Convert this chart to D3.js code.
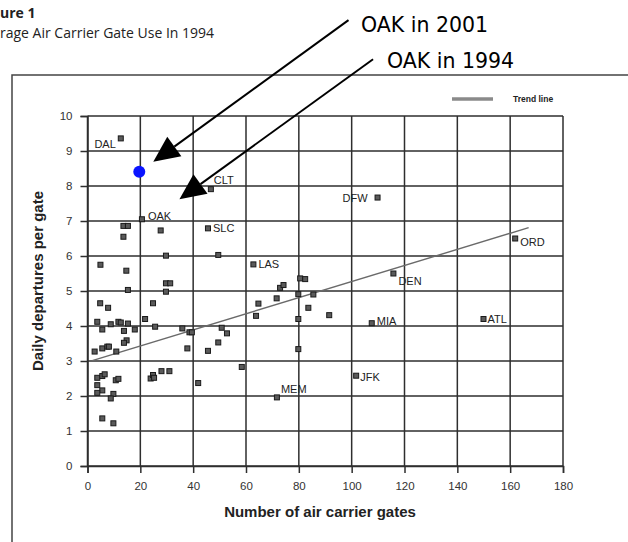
<!DOCTYPE html>
<html><head><meta charset="utf-8">
<script src="https://cdn.jsdelivr.net/npm/d3@7"></script>
<style>body{margin:0;background:#fff}svg{display:block}</style>
</head><body>
<svg id="c" width="628" height="542"></svg>
<script>
// ---- data ----
const xTicks = [0,20,40,60,80,100,120,140,160,180];
const yTicks = [0,1,2,3,4,5,6,7,8,9,10];
const labeledNames = ["DAL","CLT","OAK","SLC","LAS","DFW","ORD","DEN","MIA","ATL","JFK","MEM"];
const labeledGates = [12.6,46.7,20.6,45.6,62.8,109.8,161.9,115.8,107.6,149.9,101.7,71.7];
const labeledDeps  = [9.36,7.91,7.05,6.79,5.76,7.67,6.5,5.5,4.08,4.2,2.58,1.96];
const otherGates = [13.6,15.3,13.6,27.7,29.7,49.5,4.9,14.7,29.7,31.3,15.3,29.7,4.8,7.8,24.8,64.7,71.6,72.9,74.2,80.5,82.4,79.8,85.5,83.6,91.5,79.8,79.8,63.8,21.8,3.7,5.6,8.8,11.7,12.6,15.3,13.8,17.9,25.6,35.9,38.6,39.5,37.8,45.6,49.5,50.8,52.8,58.4,14.8,13.8,5.6,7.5,8.1,2.7,10.9,3.7,5.6,6.5,3.7,5.6,3.7,10.7,11.7,9.8,8.8,5.6,9.8,23.9,24.8,25.2,28,31,41.9];
const otherDeps  = [6.86,6.86,6.55,6.73,6.01,6.03,5.75,5.58,5.22,5.22,5.03,4.98,4.65,4.52,4.65,4.64,4.79,5.09,5.17,5.36,5.34,4.91,4.9,4.52,4.31,4.2,3.34,4.29,4.2,4.12,3.9,4.05,4.12,4.1,4.07,3.86,3.9,3.98,3.93,3.82,3.82,3.36,3.29,3.53,3.95,3.79,2.83,3.59,3.52,3.36,3.41,3.41,3.27,3.27,2.52,2.57,2.62,2.31,2.16,2.09,2.45,2.49,2.06,1.93,1.36,1.22,2.5,2.6,2.52,2.71,2.71,2.37];
const oak2001 = [19.6, 8.41];
const trendX = [1.8, 167];
const trendY = [3.01, 6.81];
const annoText = ["OAK in 2001","OAK in 1994"];
const annoFrom = [[98.8,12.74],[108.1,11.62]];
const annoTip  = [[24.9,8.69],[34.8,7.62]];

// ---- layout ----
const svg = d3.select("#c");
const x = d3.scaleLinear().domain([0,180]).range([87.5,563]);
const y = d3.scaleLinear().domain([0,10]).range([466,116]);
const lineCol = "#2e2e2e";
const helv = "'Liberation Sans', Arial, sans-serif";
const human = "'Open Sans', 'Noto Sans', sans-serif";

// page frame
svg.append("path").attr("d","M12,542V75H628").attr("fill","none").attr("stroke","#444").attr("stroke-width",1.5);

// titles
svg.append("text").attr("x",0).attr("y",18).attr("font-family",human).attr("font-weight","bold").attr("font-size",14).attr("fill","#222").text("ure 1");
svg.append("text").attr("x",0).attr("y",37.5).attr("font-family",human).attr("font-size",14).attr("fill","#222").text("rage Air Carrier Gate Use In 1994");

// grid
const g = svg.append("g");
g.selectAll("line.h").data(yTicks).join("line")
  .attr("x1",x(0)).attr("x2",x(180)).attr("y1",d=>y(d)).attr("y2",d=>y(d))
  .attr("stroke",lineCol).attr("stroke-width",1.5);
g.selectAll("line.v").data(xTicks).join("line")
  .attr("y1",y(0)).attr("y2",y(10)).attr("x1",d=>x(d)).attr("x2",d=>x(d))
  .attr("stroke",lineCol).attr("stroke-width",1.5);

// axes
const xa = svg.append("g").attr("transform",`translate(0,${y(0)})`)
  .call(d3.axisBottom(x).tickValues(xTicks).tickSize(7).tickPadding(9).tickFormat(d3.format("d")));
const ya = svg.append("g").attr("transform",`translate(${x(0)},0)`)
  .call(d3.axisLeft(y).tickValues(yTicks).tickSize(7).tickPadding(8).tickFormat(d3.format("d")));
[xa,ya].forEach(a=>{
  a.select(".domain").attr("stroke",lineCol).attr("stroke-width",1.5);
  a.selectAll(".tick line").attr("stroke",lineCol).attr("stroke-width",1.5);
  a.selectAll(".tick text").attr("font-family",helv).attr("font-size",11.5).attr("fill","#333");
});

// axis titles
svg.append("text").attr("x",320).attr("y",517).attr("text-anchor","middle")
  .attr("font-family",helv).attr("font-weight","bold").attr("font-size",15).attr("fill","#222")
  .text("Number of air carrier gates");
svg.append("text").attr("transform","translate(43,281) rotate(-90)").attr("text-anchor","middle")
  .attr("font-family",helv).attr("font-weight","bold").attr("font-size",15).attr("fill","#222")
  .text("Daily departures per gate");

// legend
svg.append("line").attr("x1",452).attr("x2",493).attr("y1",99).attr("y2",99).attr("stroke","#8a8a8a").attr("stroke-width",3.5);
svg.append("text").attr("x",513).attr("y",102).attr("font-family",helv).attr("font-weight","bold").attr("font-size",8.5).attr("fill","#222").text("Trend line");

// trend line
svg.append("line").attr("x1",x(trendX[0])).attr("y1",y(trendY[0])).attr("x2",x(trendX[1])).attr("y2",y(trendY[1]))
  .attr("stroke","#6a6a6a").attr("stroke-width",1.4);

// points
const sq = 5;
svg.append("g").selectAll("rect").data(otherGates.map((v,i)=>[v,otherDeps[i]])).join("rect")
  .attr("x",d=>x(d[0])-sq/2).attr("y",d=>y(d[1])-sq/2).attr("width",sq).attr("height",sq)
  .attr("fill","#5a5a5a").attr("stroke","#1a1a1a").attr("stroke-width",1);
const lab = labeledNames.map((n,i)=>({n, gx:labeledGates[i], dy:labeledDeps[i]}));
svg.append("g").selectAll("rect").data(lab).join("rect")
  .attr("x",d=>x(d.gx)-sq/2).attr("y",d=>y(d.dy)-sq/2).attr("width",sq).attr("height",sq)
  .attr("fill","#5a5a5a").attr("stroke","#1a1a1a").attr("stroke-width",1);
const off = {DAL:[-5,10,"end"],CLT:[3,-5,"start"],OAK:[6,1,"start"],SLC:[5,4,"start"],LAS:[5,4,"start"],
  DFW:[-10,4,"end"],ORD:[5,7,"start"],DEN:[5,11,"start"],MIA:[5,2,"start"],ATL:[4,4,"start"],JFK:[4,5,"start"],MEM:[4,-4,"start"]};
svg.append("g").selectAll("text").data(lab).join("text")
  .attr("x",d=>x(d.gx)+off[d.n][0]).attr("y",d=>y(d.dy)+off[d.n][1]).attr("text-anchor",d=>off[d.n][2])
  .attr("font-family",helv).attr("font-size",11).attr("fill","#222").text(d=>d.n);

// OAK 2001
svg.append("circle").attr("cx",x(oak2001[0])).attr("cy",y(oak2001[1])).attr("r",6).attr("fill","#0a14ff");

// annotations
annoText.forEach((t,i)=>{
  const x1=x(annoFrom[i][0]), y1=y(annoFrom[i][1]), x2=x(annoTip[i][0]), y2=y(annoTip[i][1]);
  const ang=Math.atan2(y2-y1,x2-x1), L=26, W=12;
  const bx=x2-L*Math.cos(ang), by=y2-L*Math.sin(ang);
  svg.append("line").attr("x1",x1).attr("y1",y1).attr("x2",bx).attr("y2",by).attr("stroke","#000").attr("stroke-width",2);
  const px=-Math.sin(ang)*W, py=Math.cos(ang)*W;
  svg.append("path").attr("d",`M${x2},${y2}L${bx+px},${by+py}L${bx-px},${by-py}Z`).attr("fill","#000");
});
svg.append("text").attr("x",361).attr("y",32).attr("font-family","'DejaVu Sans', sans-serif").attr("font-size",20.5).attr("fill","#000").text(annoText[0]);
svg.append("text").attr("x",387).attr("y",68).attr("font-family","'DejaVu Sans', sans-serif").attr("font-size",20.5).attr("fill","#000").text(annoText[1]);
</script>
</body></html>
